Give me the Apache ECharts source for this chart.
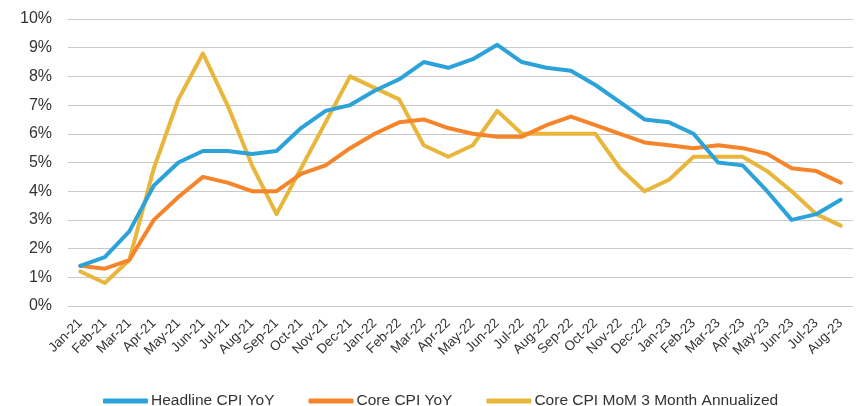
<!DOCTYPE html>
<html>
<head>
<meta charset="utf-8">
<script src="https://cdn.jsdelivr.net/npm/echarts@6/dist/echarts.min.js"></script>
<style>
  html, body { margin: 0; padding: 0; background: #fff; }
  #chart { width: 856px; height: 406px; }
</style>
</head>
<body>
<div id="chart"></div>
<script>
// months Jan-21 .. Aug-23
const MONTHS = [
  'Jan-21','Feb-21','Mar-21','Apr-21','May-21','Jun-21','Jul-21','Aug-21','Sep-21','Oct-21','Nov-21','Dec-21',
  'Jan-22','Feb-22','Mar-22','Apr-22','May-22','Jun-22','Jul-22','Aug-22','Sep-22','Oct-22','Nov-22','Dec-22',
  'Jan-23','Feb-23','Mar-23','Apr-23','May-23','Jun-23','Jul-23','Aug-23'
]

const HEADLINE = [1.4,1.7,2.6,4.2,5.0,5.4,5.4,5.3,5.4,6.2,6.8,7.0,
                  7.5,7.9,8.5,8.3,8.6,9.1,8.5,8.3,8.2,7.7,7.1,6.5,
                  6.4,6.0,5.0,4.9,4.0,3.0,3.2,3.7]
const CORE     = [1.4,1.3,1.6,3.0,3.8,4.5,4.3,4.0,4.0,4.6,4.9,5.5,
                  6.0,6.4,6.5,6.2,6.0,5.9,5.9,6.3,6.6,6.3,6.0,5.7,
                  5.6,5.5,5.6,5.5,5.3,4.8,4.7,4.3]
const CORE_3M  = [1.2,0.8,1.6,4.8,7.2,8.8,7.0,4.9,3.2,4.8,6.4,8.0,
                  7.6,7.2,5.6,5.2,5.6,6.8,6.0,6.0,6.0,6.0,4.8,4.0,
                  4.4,5.2,5.2,5.2,4.7,4.0,3.2,2.8]

const NAMES  = ['Headline CPI YoY', 'Core CPI YoY', 'Core CPI MoM 3 Month Annualized']
const COLORS = ['#2ba3d9', '#f5842a', '#e9b63c']
const FONT = '"Liberation Sans", Arial, sans-serif'

const chart = echarts.init(document.getElementById('chart'))

const series = [HEADLINE, CORE, CORE_3M].map((d, i) => ({
  name: NAMES[i],
  type: 'line',
  data: d,
  symbol: 'none',
  z: 3 - i,
  lineStyle: { color: COLORS[i], width: 4, join: 'round', cap: 'round' },
  itemStyle: { color: COLORS[i] },
}))

chart.setOption({
  animation: false,
  backgroundColor: '#fff',
  textStyle: { fontFamily: FONT },
  grid: { left: 68, right: 3, top: 19, bottom: 100 },
  legend: {
    data: NAMES,
    top: 388,
    left: 98,
    itemWidth: 45,
    itemHeight: 5,
    itemGap: 34,
    icon: 'roundRect',
    textStyle: { color: '#333', fontSize: 15.5, fontFamily: FONT, padding: [0, 0, 0, -2] },
  },
  xAxis: {
    type: 'category',
    data: MONTHS,
    boundaryGap: true,
    axisLine: { show: false },
    axisTick: { show: false },
    axisLabel: { rotate: 45, interval: 0, color: '#333', fontSize: 13.5, margin: 15, fontFamily: FONT },
  },
  yAxis: {
    type: 'value',
    min: 0,
    max: 10,
    interval: 1,
    axisLine: { show: false },
    axisTick: { show: false },
    axisLabel: { color: '#333', fontSize: 16, margin: 16, formatter: v => v + '%', fontFamily: FONT },
    splitLine: { lineStyle: { color: '#c9c9c9', width: 1 } },
  },
  series,
})
</script>
</body>
</html>
